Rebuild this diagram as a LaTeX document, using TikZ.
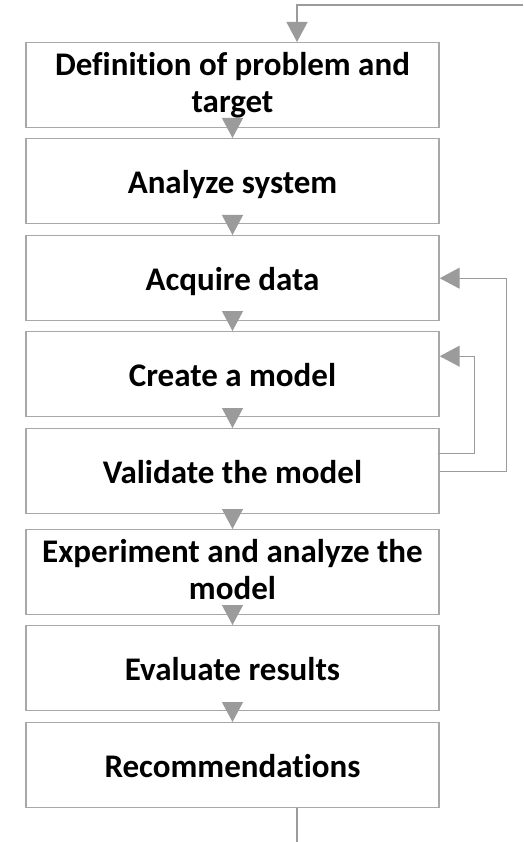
\documentclass[tikz,border=0pt]{standalone}
\usepackage{fontspec}
\setmainfont{Carlito}[Ligatures={NoCommon}]
\usetikzlibrary{arrows.meta}

\definecolor{frame}{RGB}{168,168,168}
\definecolor{flowgray}{RGB}{155,155,155}

% centred label block: 37pt lines; optional strut height above the first
% baseline (default 31pt), the rest of the 38pt line box goes below the last
\newcommand\steplabel[2][31]{\vbox{\hsize=405pt\centering
  \fontsize{33}{37}\bfseries\selectfont
  \leavevmode\vrule width 0pt height #1pt depth 0pt\relax #2%
  \vrule width 0pt height 0pt depth \dimexpr 38pt-#1pt\relax\par}}

\begin{document}
\begin{tikzpicture}[x=1pt,y=-1pt,
  stepbox/.style={draw=frame, line width=1.4pt, fill=white,
    minimum width=413pt, minimum height=85pt, inner sep=0pt, anchor=north},
  flow/.style={draw=flowgray, line width=1.2pt,
    -{Triangle[width=21pt,length=20pt,fill=flowgray]}},
  plain/.style={draw=flowgray, line width=1.2pt}]
\useasboundingbox (0,0) rectangle (523,842);

\node[stepbox] (def) at (232.5,42)  {\steplabel[28]{Definition of problem and\\target}};
\node[stepbox] (ana) at (232.5,138) {\steplabel{Analyze system}};
\node[stepbox] (acq) at (232.5,235) {\steplabel{Acquire data}};
\node[stepbox] (cre) at (232.5,331) {\steplabel{Create a model}};
\node[stepbox] (val) at (232.5,428) {\steplabel{Validate the model}};
\node[stepbox] (exp) at (232.5,529) {\steplabel[28]{Experiment and analyze the\\model}};
\node[stepbox] (eva) at (232.5,625) {\steplabel{Evaluate results}};
\node[stepbox] (rec) at (232.5,722) {\steplabel{Recommendations}};

\coordinate (entry) at (523,5);
\coordinate (exit) at (297,842);

% main sequence
\foreach \a/\b in {def/ana, ana/acq, acq/cre, cre/val, val/exp, exp/eva, eva/rec}
  \draw[flow] (\a.south) -- (\b.north);

% incoming and outgoing lines
\draw[flow] (entry) -| ([xshift=64.5pt]def.north);
\draw[plain] ([xshift=64.5pt]rec.south) -- (exit);

% feedback loops
\draw[flow] (val.east) -- ++(67,0) |- (acq.east);
\draw[flow] ([xshift=-2pt,yshift=18pt]val.east) -- ++(37,0) |- ([yshift=18pt]cre.east);
\end{tikzpicture}
\end{document}
